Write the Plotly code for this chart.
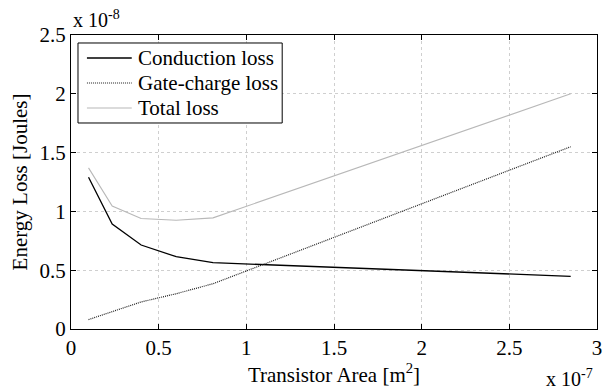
import plotly.graph_objects as go

# Data (x in units of 1e-7 m^2, y in units of 1e-8 J)
area = [0.10, 0.235, 0.40, 0.60, 0.81, 2.85]
conduction = [1.29, 0.893, 0.714, 0.615, 0.564, 0.448]
gate_charge = [0.08, 0.15, 0.23, 0.30, 0.385, 1.55]
total = [1.37, 1.045, 0.94, 0.925, 0.945, 2.00]

series_names = ["Conduction loss", "Gate-charge loss", "Total loss"]

x_ticks = [0, 0.5, 1, 1.5, 2, 2.5, 3]
y_ticks = [0, 0.5, 1, 1.5, 2, 2.5]

FONT = "Liberation Serif"
styles = [
    dict(color="black", width=1.3),
    dict(color="#202020", width=1.2, dash="1px,1px"),
    dict(color="#b8b8b8", width=1.1),
]

fig = go.Figure()
for name, ys, st in zip(series_names, [conduction, gate_charge, total], styles):
    fig.add_trace(go.Scatter(x=area, y=ys, mode="lines", name=name, line=st, showlegend=False))

axis_common = dict(
    showline=True, linecolor="black", linewidth=1, mirror="allticks",
    ticks="inside", ticklen=5, tickcolor="black", tickwidth=1,
    showgrid=True, gridcolor="#cfcfcf", griddash="dot", gridwidth=1,
    zeroline=False,
    tickfont=dict(family=FONT, size=21, color="black"),
)

# Legend drawn in paper coordinates (box, sample lines, labels)
shapes = [dict(type="rect", xref="paper", yref="paper", x0=0.0133, x1=0.4015, y0=0.7007, y1=0.9728,
               line=dict(color="black", width=1), fillcolor="white", layer="above")]
annotations = []
row_y = [0.9218, 0.8367, 0.7517]
for name, st, yy in zip(series_names, styles, row_y):
    shapes.append(dict(type="line", xref="paper", yref="paper", x0=0.0303, x1=0.1155, y0=yy, y1=yy,
                       line=st, layer="above"))
    annotations.append(dict(text=name, xref="paper", yref="paper", x=0.1245, y=yy,
                            xanchor="left", yanchor="middle", showarrow=False,
                            font=dict(family=FONT, size=21, color="black")))

annotations += [
    dict(text="x 10<sup>-8</sup>", xref="paper", yref="paper", x=0.0, y=1.0,
         xanchor="left", yanchor="bottom", showarrow=False, yshift=2,
         font=dict(family=FONT, size=20)),
    dict(text="x 10<sup>-7</sup>", xref="paper", yref="paper", x=0.997, y=0,
         xanchor="right", yanchor="top", showarrow=False, yshift=-35,
         font=dict(family=FONT, size=20)),
]

fig.update_layout(
    width=614, height=392,
    margin=dict(l=71, r=15, t=35, b=63),
    paper_bgcolor="white", plot_bgcolor="white",
    font=dict(family=FONT, color="black"),
    xaxis=dict(range=[0, 3], tickvals=x_ticks, ticktext=[f"{v:g}" for v in x_ticks],
               title=dict(text="Transistor Area [m<sup>2</sup>]", font=dict(family=FONT, size=21), standoff=4),
               **axis_common),
    yaxis=dict(range=[0, 2.5], tickvals=y_ticks, ticktext=[f"{v:g}" for v in y_ticks],
               title=dict(text="Energy Loss [Joules]", font=dict(family=FONT, size=21), standoff=6),
               **axis_common),
    showlegend=False,
    shapes=shapes,
    annotations=annotations,
)

fig.write_html("out.html")
